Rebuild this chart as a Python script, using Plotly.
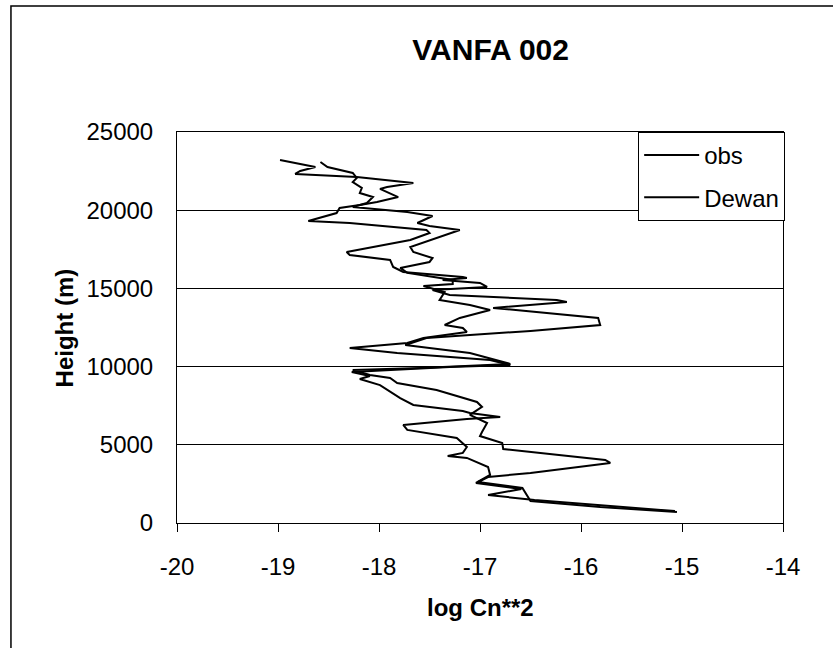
import plotly.graph_objects as go

# log Cn**2 profiles (height in m)
obs_cn2 = [-15.05, -15.81, -16.50, -16.58, -17.02, -16.92, -16.50, -16.06, -15.71, -15.76,
           -16.21, -16.77, -16.78, -17.00, -16.98, -16.93, -17.10, -16.98, -17.03, -17.43,
           -17.82, -17.89, -18.09, -18.26, -17.59, -16.70, -16.77, -17.10, -17.50, -17.74,
           -17.53, -16.50, -15.81, -15.83, -16.87, -16.14, -16.24, -17.30, -17.47, -16.93,
           -17.00, -17.37, -17.13, -17.17, -17.76, -17.86, -17.89, -18.29, -18.32, -17.69,
           -17.50, -17.53, -18.29, -18.70, -18.42, -18.39, -18.19, -18.02, -17.81, -17.99,
           -17.92, -17.66, -18.22, -18.83, -18.78, -18.63, -18.98]
obs_height = [700, 1020, 1410, 2240, 2620, 2940, 3200, 3580, 3840, 4030,
              4350, 4730, 5120, 5560, 5820, 6390, 6910, 7420, 7740, 8500,
              8950, 9270, 9460, 9780, 9910, 10170, 10290, 10870, 11190, 11380,
              11830, 12280, 12660, 13110, 13750, 14130, 14260, 14580, 14900, 15090,
              15350, 15540, 15670, 15730, 16050, 16370, 16820, 17140, 17330, 18100,
              18540, 18730, 19180, 19310, 19820, 20140, 20330, 20530, 20840, 21360,
              21480, 21740, 22120, 22320, 22510, 22760, 23210]

dewan_cn2 = [-15.07, -16.46, -16.92, -16.59, -17.04, -16.90, -16.92, -17.13, -17.32, -17.17,
             -17.13, -17.23, -17.72, -17.76, -17.13, -16.80, -17.10, -17.17, -17.66, -17.79,
             -17.99, -18.19, -18.09, -18.27, -17.30, -16.70, -16.90, -17.82, -18.29, -17.72,
             -17.56, -17.13, -17.17, -17.35, -17.20, -16.90, -17.10, -17.40, -17.35, -17.56,
             -17.27, -17.27, -17.72, -17.79, -17.50, -17.47, -17.66, -17.69, -17.20, -17.50,
             -17.62, -17.47, -17.72, -18.26, -18.12, -18.06, -18.19, -18.17, -18.26, -18.22,
             -18.26, -18.51, -18.58]
dewan_height = [760, 1470, 1790, 2170, 2560, 3070, 3580, 4160, 4280, 4480,
                4860, 5440, 5950, 6270, 6650, 6780, 7030, 7160, 7550, 7990,
                8820, 9210, 9400, 9660, 9980, 10100, 10420, 10870, 11190, 11510,
                11830, 12210, 12470, 12660, 13110, 13620, 13940, 14260, 14770, 15150,
                15280, 15540, 15990, 16310, 16690, 16940, 17330, 17650, 18730, 18990,
                19180, 19630, 19890, 20200, 20460, 20840, 21100, 21420, 21800, 22060,
                22380, 22760, 23080]

x_ticks = [-20, -19, -18, -17, -16, -15, -14]
x_tick_labels = ["-20", "-19", "-18", "-17", "-16", "-15", "-14"]
y_ticks = [0, 5000, 10000, 15000, 20000, 25000]

FONT = "Arial, Liberation Sans, sans-serif"

fig = go.Figure()
fig.add_trace(go.Scatter(x=obs_cn2, y=obs_height, mode="lines", name="obs",
                         legendgroup="obs",
                         line=dict(color="black", width=2)))
fig.add_trace(go.Scatter(x=dewan_cn2, y=dewan_height, mode="lines", name="Dewan",
                         legendgroup="dewan",
                         line=dict(color="black", width=2)))

fig.update_layout(
    width=833, height=648,
    margin=dict(l=177, r=50, t=132, b=125),
    paper_bgcolor="white", plot_bgcolor="white",
    font=dict(family=FONT, size=24, color="black"),
    title=dict(text="<b>VANFA 002</b>", x=0.589, xanchor="center",
               y=0.923, yanchor="middle", font=dict(size=30)),
    showlegend=True,
    legend=dict(x=0.761, y=1.0, xanchor="left", yanchor="top",
                bgcolor="white", bordercolor="black", borderwidth=1,
                font=dict(size=24), itemwidth=55, tracegroupgap=8),
    shapes=[dict(type="rect", xref="paper", yref="paper",
                 x0=-0.274, x1=1.15, y0=-0.4, y1=1.322,
                 line=dict(color="black", width=1.5), layer="below")],
    annotations=[
        dict(text="<b>log Cn**2</b>", xref="paper", yref="paper",
             x=0.5, y=-0.215, xanchor="center", yanchor="middle",
             showarrow=False, font=dict(size=24)),
        dict(text="<b>Height (m)</b>", xref="paper", yref="paper",
             x=-0.185, y=0.5, xanchor="center", yanchor="middle",
             textangle=-90, showarrow=False, font=dict(size=24)),
    ],
)
fig.update_xaxes(range=[-20, -14], tickvals=x_ticks, ticktext=x_tick_labels,
                 ticks="outside", ticklen=8, tickcolor="black",
                 showgrid=False, zeroline=False,
                 showline=True, linecolor="black", linewidth=1, mirror=True,
                 ticklabelstandoff=14)
fig.update_yaxes(range=[0, 25000], tickvals=y_ticks, tickformat="d", ticks="",
                 showgrid=True, gridcolor="black", gridwidth=1, zeroline=False,
                 showline=True, linecolor="black", linewidth=1, mirror=True,
                 ticklabelstandoff=18)

# drop the default page margin so the figure sits at the window's corner
fig.write_html("out.html", config={"displayModeBar": False},
               post_script="document.body.style.margin = '0';")
